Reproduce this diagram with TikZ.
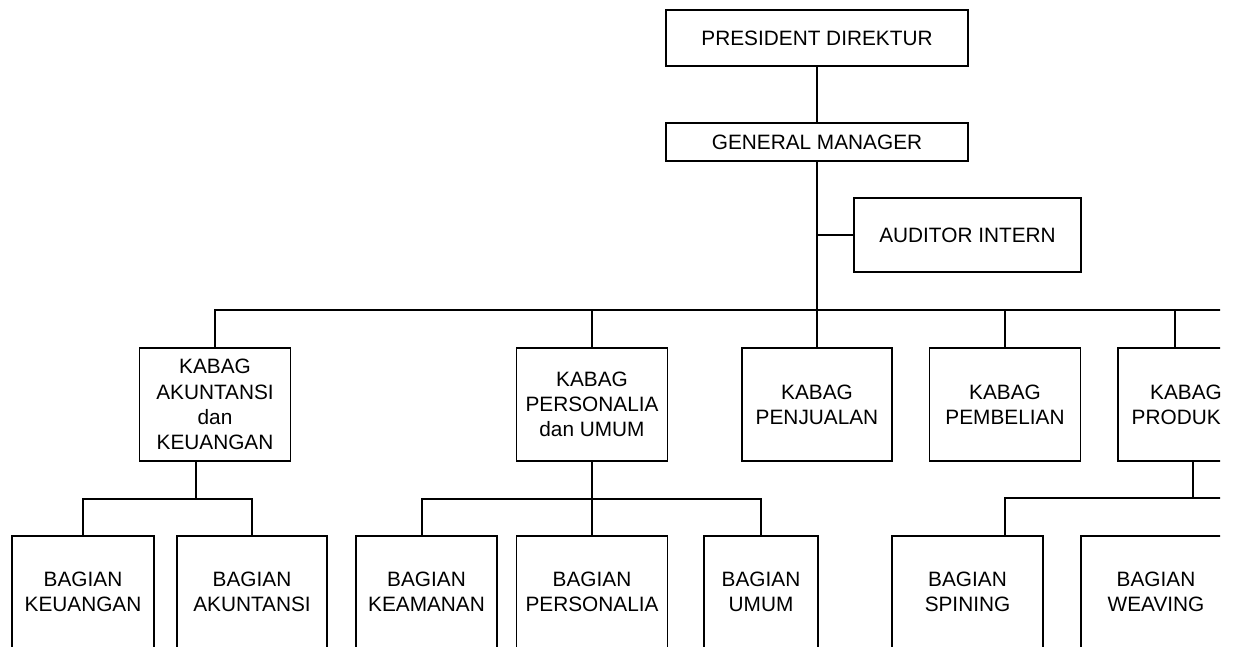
\documentclass[tikz,border=0pt]{standalone}
\usepackage{fontspec}
\setmainfont{Liberation Sans}
\begin{document}
\begin{tikzpicture}[x=1pt,y=-1pt,
  box/.style={draw=black,line width=1.35pt,inner sep=0pt,align=center,anchor=center,
    font=\fontsize{20.8}{25.2}\selectfont},
  conn/.style={draw=black,line width=1.35pt}]
\useasboundingbox (0,0) rectangle (1236,646);
\begin{scope}
\clip (0,0) rectangle (1220,646);
% top level
\node[box,minimum width=302,minimum height=56] (pd) at (817,38) {PRESIDENT DIREKTUR};
\node[box,minimum width=302,minimum height=38] (gm) at (817,142) {GENERAL MANAGER};
\node[box,minimum width=227,minimum height=74] (aud) at (967.5,235) {AUDITOR INTERN};
% kabag
\node[box,minimum width=151,minimum height=113] (akt) at (215,404.5) {KABAG\\AKUNTANSI\\dan\\KEUANGAN};
\node[box,minimum width=151,minimum height=113] (pers) at (592,404.5) {KABAG\\PERSONALIA\\dan UMUM};
\node[box,minimum width=150,minimum height=113] (penj) at (817,404.5) {KABAG\\PENJUALAN};
\node[box,minimum width=151,minimum height=113] (pemb) at (1005,404.5) {KABAG\\PEMBELIAN};
\node[box,minimum width=136,minimum height=113] (prod) at (1186,404.5) {KABAG\\PRODUKSI};
% bagian
\node[box,minimum width=142,minimum height=112] (bkeu) at (83,592) {BAGIAN\\KEUANGAN};
\node[box,minimum width=150,minimum height=112] (bakt) at (252,592) {BAGIAN\\AKUNTANSI};
\node[box,minimum width=141,minimum height=112] (bkeam) at (426.5,592) {BAGIAN\\KEAMANAN};
\node[box,minimum width=151,minimum height=112] (bpers) at (592,592) {BAGIAN\\PERSONALIA};
\node[box,minimum width=114,minimum height=112] (bumum) at (761,592) {BAGIAN\\UMUM};
\node[box,minimum width=151,minimum height=112] (bspin) at (967.5,592) {BAGIAN\\SPINING};
\node[box,minimum width=150,minimum height=112] (bweav) at (1156,592) {BAGIAN\\WEAVING};
% helper coordinates
\coordinate (hr) at (1240,310);
\coordinate (aj) at (196,499);
\coordinate (pj) at (592,499);
\coordinate (prj) at (1193,498);
\coordinate (prr) at (1240,498);
% connectors
\path[conn] (pd.south) -- (gm.north);
\path[conn] (gm.south) -- (penj.north);
\path[conn] (gm.south |- aud.west) -- (aud.west);
\path[conn] (akt.north) |- (hr);
\path[conn] (pers.north) -- (pers.north |- hr);
\path[conn] (pemb.north) -- (pemb.north |- hr);
\path[conn] ([xshift=-11pt]prod.north) -- ([xshift=-11pt]prod.north |- hr);
% akuntansi subtree
\path[conn] (aj |- akt.south) -- (aj);
\path[conn] (bkeu.north) |- (bakt.north |- aj) -- (bakt.north);
% personalia subtree
\path[conn] (pers.south) -- (bpers.north);
\path[conn] (bkeam.north -| 422,0) |- (bumum.north |- pj) -- (bumum.north);
% produksi subtree
\path[conn] (prj |- prod.south) -- (prj);
\path[conn] ([xshift=37.5pt]bspin.north) |- (prr);
\end{scope}
\end{tikzpicture}
\end{document}
